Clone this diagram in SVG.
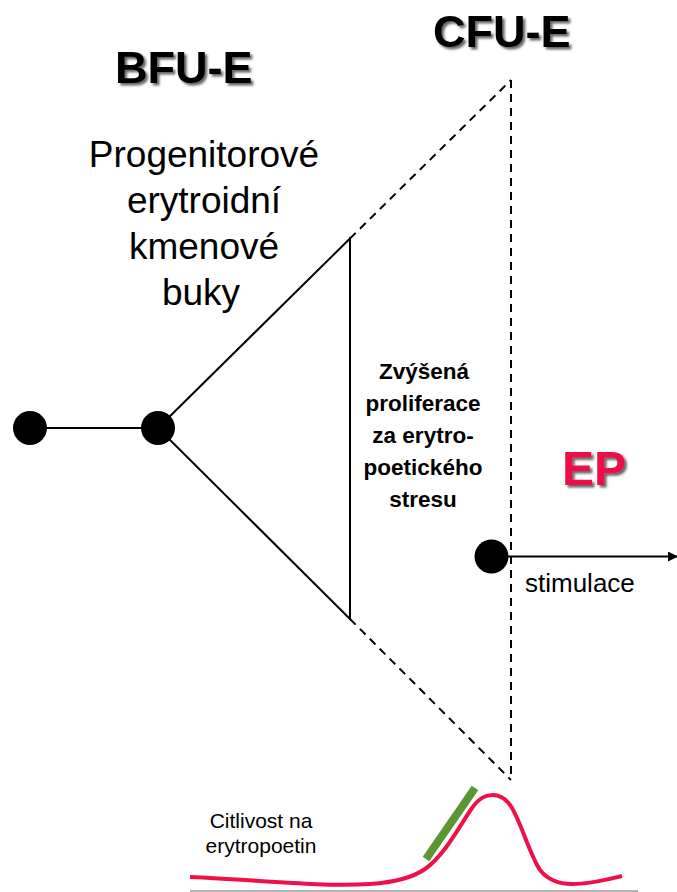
<svg xmlns="http://www.w3.org/2000/svg" width="677" height="892" viewBox="0 0 677 892">
<defs>
<style>
.ln{stroke:#000;stroke-width:2;fill:none}
.dash{stroke:#000;stroke-width:2;fill:none;stroke-dasharray:8 6}
.dot{fill:#000}
.title{font-family:"Liberation Sans",Arial,sans-serif;font-weight:bold;font-size:45px;fill:#000;filter:url(#sh)}
.reg{font-family:"Liberation Sans",Arial,sans-serif;fill:#000}
.bold{font-family:"Liberation Sans",Arial,sans-serif;font-weight:bold;font-size:22.5px;fill:#000}
</style>
<filter id="sh" x="-10%" y="-20%" width="130%" height="150%">
<feDropShadow dx="2.5" dy="2.5" stdDeviation="1.2" flood-color="#000" flood-opacity="0.6"/>
</filter>
<marker id="arr" markerWidth="10" markerHeight="10" refX="9" refY="5" orient="auto" markerUnits="userSpaceOnUse">
<path d="M0,0 L10,5 L0,10 Z" fill="#000"/>
</marker>
</defs>
<rect width="677" height="892" fill="#fff"/>
<g id="connectors">
<line class="ln" x1="30" y1="428" x2="158" y2="428"/>
<line class="ln" x1="158" y1="428" x2="350" y2="238.5"/>
<line class="dash" x1="350" y1="238.5" x2="511" y2="80"/>
<line class="ln" x1="158" y1="428" x2="350" y2="619"/>
<line class="dash" x1="350" y1="619" x2="511" y2="780"/>
<line class="ln" x1="350" y1="237" x2="350" y2="620"/>
<line class="dash" x1="511" y1="80" x2="511" y2="780"/>
<line class="ln" x1="491" y1="556.5" x2="677" y2="556.5" marker-end="url(#arr)"/>
</g>
<g id="node-start"><circle class="dot" cx="30" cy="428" r="17"/></g>
<g id="node-bfu"><circle class="dot" cx="158" cy="428" r="17"/></g>
<g id="node-cfu"><circle class="dot" cx="491.5" cy="556.5" r="17"/></g>
<g id="label-bfu"><text class="title" x="115" y="83">BFU-E</text></g>
<g id="label-cfu"><text class="title" x="433" y="47">CFU-E</text></g>
<g id="label-progenitor" class="reg" font-size="37" text-anchor="middle">
<text x="204" y="167">Progenitorové</text>
<text x="204" y="213">erytroidní</text>
<text x="204" y="259">kmenové</text>
<text x="201" y="305">buky</text>
</g>
<g id="label-stress" class="bold" text-anchor="middle">
<text class="bold" x="424" y="379">Zvýšená</text>
<text class="bold" x="423" y="411">proliferace</text>
<text class="bold" x="423" y="443">za erytro-</text>
<text class="bold" x="423" y="475">poetického</text>
<text class="bold" x="423" y="507">stresu</text>
</g>
<g id="label-ep"><text x="562" y="485" font-family="Liberation Sans,Arial,sans-serif" font-weight="bold" font-size="48" fill="#ee1148" filter="url(#sh)">EP</text></g>
<g id="label-stim"><text class="reg" x="525" y="592" font-size="26">stimulace</text></g>
<g id="chart">
<line x1="190" y1="891" x2="638" y2="891" stroke="#999" stroke-width="1.5"/>
<path d="M190,877 C260,880 320,887 370,884 C400,882 415,876 425,869 C445,855 460,825 472,808 C480,797 486,795 493,795 C500,795 506,798 512,808 C522,825 530,855 540,870 C548,880 558,884 572,884 C590,884 605,880 622,876" fill="none" stroke="#ee1148" stroke-width="4"/>
<line x1="426" y1="859" x2="475" y2="788" stroke="#5b9632" stroke-width="8"/>
<text class="reg" font-size="21" text-anchor="middle" x="261" y="828">Citlivost na</text>
<text class="reg" font-size="21" text-anchor="middle" x="261" y="853">erytropoetin</text>
</g>
</svg>
